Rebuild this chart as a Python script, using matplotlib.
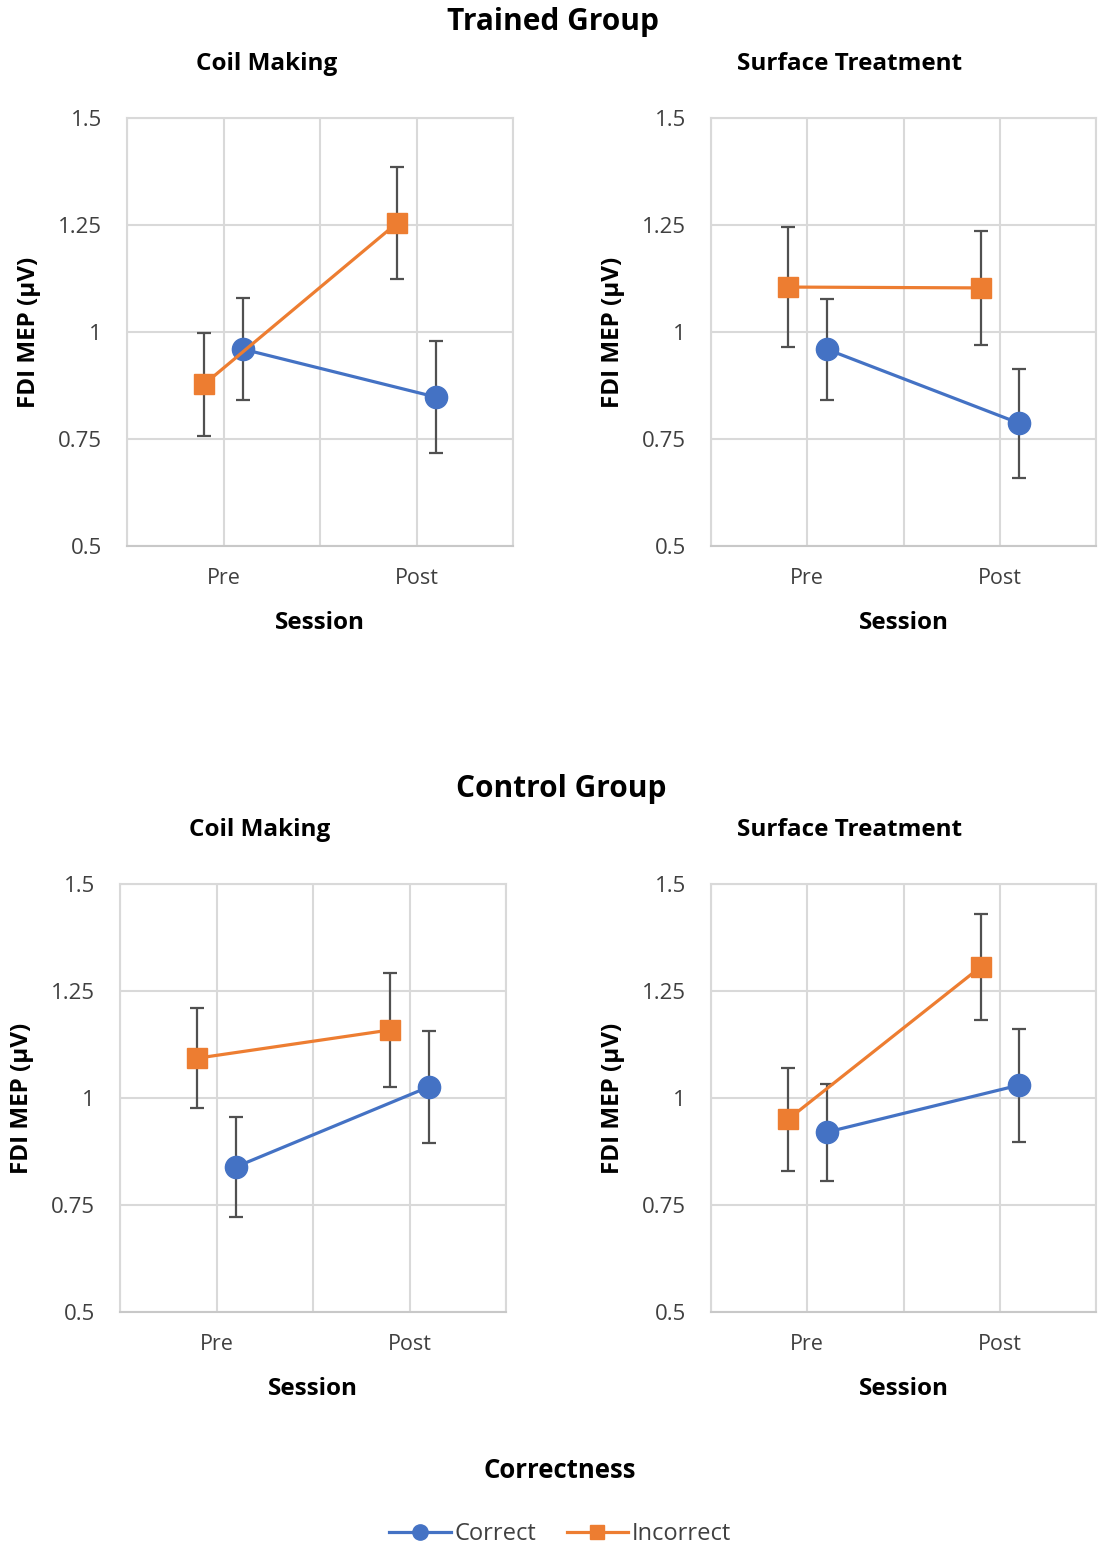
import matplotlib.pyplot as plt
from matplotlib.lines import Line2D

plt.rcParams['font.family'] = ['Open Sans', 'DejaVu Sans']

# categories / labels
sessions = ['Pre', 'Post']
groups = ['Trained Group', 'Control Group']
tasks = ['Coil Making', 'Surface Treatment']
yticks = [0.5, 0.75, 1, 1.25, 1.5]
yticklabels = ['0.5', '0.75', '1', '1.25', '1.5']

# means and error, order: Pre, Post
trained_coil_correct = [0.96, 0.848]
trained_coil_correct_err = [0.12, 0.13]
trained_coil_incorrect = [0.878, 1.255]
trained_coil_incorrect_err = [0.12, 0.13]

trained_surf_correct = [0.96, 0.787]
trained_surf_correct_err = [0.118, 0.127]
trained_surf_incorrect = [1.105, 1.103]
trained_surf_incorrect_err = [0.14, 0.134]

control_coil_correct = [0.839, 1.026]
control_coil_correct_err = [0.117, 0.13]
control_coil_incorrect = [1.093, 1.159]
control_coil_incorrect_err = [0.117, 0.134]

control_surf_correct = [0.92, 1.03]
control_surf_correct_err = [0.113, 0.132]
control_surf_incorrect = [0.95, 1.306]
control_surf_incorrect_err = [0.12, 0.124]

blue = '#4472C4'
orange = '#ED7D31'
grid_col = '#D9D9D9'
err_col = '#505050'

fig = plt.figure(figsize=(11.05, 15.46), dpi=100)

W, H = 1105, 1546
def box(l, t, r, b):
    return [l / W, 1 - b / H, (r - l) / W, (b - t) / H]

panels = [
    (box(127, 118, 513, 546), trained_coil_correct, trained_coil_correct_err, trained_coil_incorrect, trained_coil_incorrect_err),
    (box(711, 118, 1096, 546), trained_surf_correct, trained_surf_correct_err, trained_surf_incorrect, trained_surf_incorrect_err),
    (box(120, 884, 506, 1312), control_coil_correct, control_coil_correct_err, control_coil_incorrect, control_coil_incorrect_err),
    (box(711, 884, 1096, 1312), control_surf_correct, control_surf_correct_err, control_surf_incorrect, control_surf_incorrect_err),
]

pos = [1, 3]
for rect, c, ce, inc, ince in panels:
    ax = fig.add_axes(rect)
    xc = [p + 0.2 for p in pos]
    xi = [p - 0.2 for p in pos]
    ax.errorbar(xc, c, yerr=ce, fmt='none', ecolor=err_col, elinewidth=1.6, capsize=5, capthick=1.6, zorder=2)
    ax.errorbar(xi, inc, yerr=ince, fmt='none', ecolor=err_col, elinewidth=1.6, capsize=5, capthick=1.6, zorder=2)
    ax.plot(xc, c, color=blue, lw=2.3, marker='o', ms=16, zorder=3)
    ax.plot(xi, inc, color=orange, lw=2.3, marker='s', ms=15, zorder=4)
    ax.set_xlim(0, 4)
    ax.set_ylim(0.5, 1.5)
    ax.set_xticks([0, 1, 2, 3, 4])
    ax.set_xticklabels(['', sessions[0], '', sessions[1], ''], fontsize=15.5, color='#404040')
    ax.set_yticks(yticks)
    ax.set_yticklabels(yticklabels, fontsize=16, color='#404040')
    ax.tick_params(length=0, axis='y', pad=18)
    ax.tick_params(length=0, axis='x', pad=16)
    ax.grid(True, color=grid_col, lw=1.5)
    ax.set_axisbelow(True)
    for s in ax.spines.values():
        s.set_color(grid_col)
        s.set_linewidth(1.5)
    ax.spines['bottom'].set_color('#C8C8C8')
    ax.set_xlabel('Session', fontsize=17.5, fontweight='bold', labelpad=16)
    ax.set_ylabel('FDI MEP (µV)', fontsize=17.5, fontweight='bold', labelpad=12)

fig.text(553 / W, 1 - 22 / H, groups[0], ha='center', va='center', fontsize=21.5, fontweight='bold')
fig.text(561 / W, 1 - 789 / H, groups[1], ha='center', va='center', fontsize=21.5, fontweight='bold')
fig.text(267 / W, 1 - 64 / H, tasks[0], ha='center', va='center', fontsize=17.5, fontweight='bold')
fig.text(850 / W, 1 - 64 / H, tasks[1], ha='center', va='center', fontsize=17.5, fontweight='bold')
fig.text(260 / W, 1 - 830 / H, tasks[0], ha='center', va='center', fontsize=17.5, fontweight='bold')
fig.text(850 / W, 1 - 830 / H, tasks[1], ha='center', va='center', fontsize=17.5, fontweight='bold')

fig.text(560 / W, 1 - 1470 / H, 'Correctness', ha='center', va='center', fontsize=18.5, fontweight='bold')
handles = [Line2D([], [], color=blue, lw=2.3, marker='o', ms=11),
           Line2D([], [], color=orange, lw=2.3, marker='s', ms=10)]
fig.legend(handles, ['Correct', 'Incorrect'], loc='center', bbox_to_anchor=(560 / W, 1 - 1534 / H),
           ncol=2, frameon=False, fontsize=17, handlelength=2.6, handletextpad=0.15, columnspacing=1.3,
           labelcolor='#404040')

fig.savefig('out.png', dpi=100)
